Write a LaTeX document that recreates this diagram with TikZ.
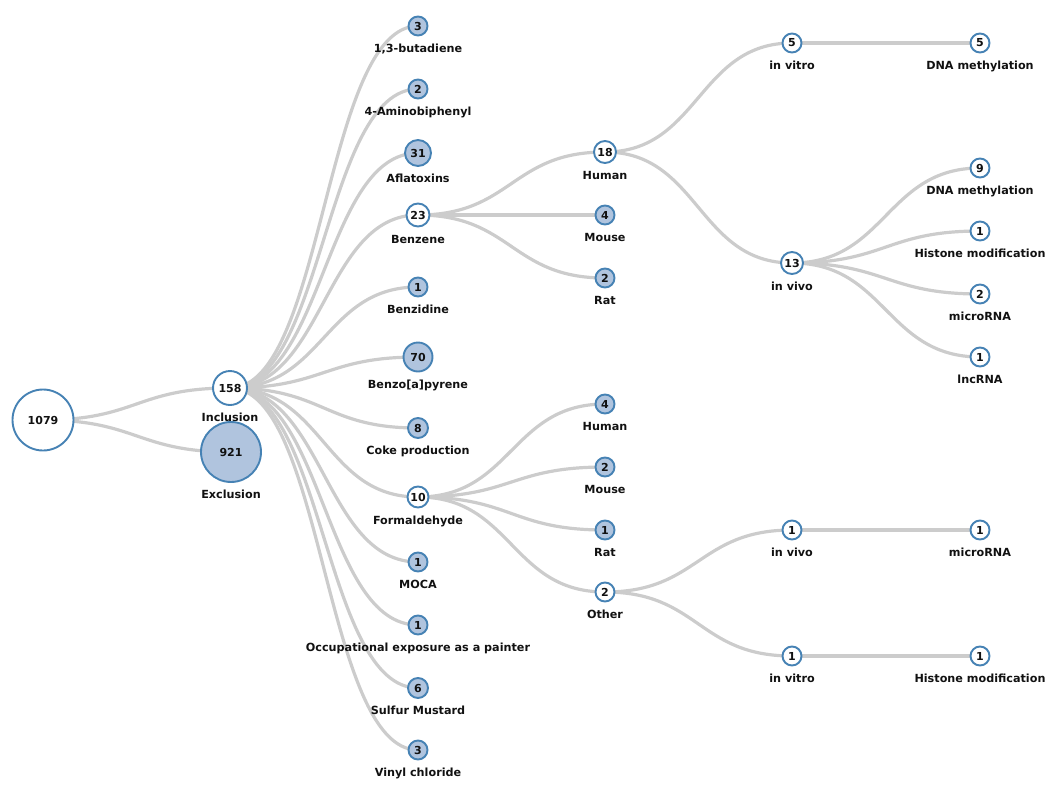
\documentclass[tikz,border=0pt]{standalone}
\usepackage{fontspec}
\setmainfont{DejaVu Sans}
\usetikzlibrary{backgrounds}
\definecolor{nodeedge}{HTML}{4682B4}
\definecolor{nodefill}{HTML}{B0C4DE}
\definecolor{linkgray}{HTML}{CCCCCC}
\definecolor{txt}{HTML}{111111}
\tikzset{
  tnode/.style={circle, draw=nodeedge, line width=1.9pt, inner sep=0pt, fill=white,
    text=txt, font=\fontsize{11}{12}\selectfont\bfseries},
  leaf/.style={tnode, fill=nodefill},
  lbl/.style={font=\fontsize{11.2}{13}\selectfont\bfseries, anchor=base, inner sep=0pt, text=txt},
  link/.style={draw=linkgray, line width=3.2pt},
}
% name, style, x, y, radius, number, label
\newcommand{\mknode}[7]{%
  \node[#2, minimum size={2*#5pt}] (#1) at (#3,#4) {#6};
  \node[lbl] (#1-l) at (#3,{#4+#5+16.5}) {#7};}
\newcommand{\lnk}[2]{\draw[link] (#1.center) .. controls +(94,0) and +(-94,0) .. (#2.center);}
\begin{document}
\begin{tikzpicture}[x=1pt,y=-1pt]
\useasboundingbox (0,0) rectangle (1050,785);
% level 0
\node[tnode, minimum size=61pt] (root) at (43,420) {1079};
% level 1
\mknode{inc}{tnode}{230}{388}{17}{158}{Inclusion}
\mknode{exc}{leaf}{231}{452}{30}{921}{Exclusion}
% level 2
\mknode{but}{leaf}{418}{26}{9.5}{3}{1,3-butadiene}
\mknode{ami}{leaf}{418}{89}{9.5}{2}{4-Aminobiphenyl}
\mknode{afl}{leaf}{418}{153}{13}{31}{Aflatoxins}
\mknode{ben}{tnode}{418}{215}{11.5}{23}{Benzene}
\mknode{bzd}{leaf}{418}{287}{9.5}{1}{Benzidine}
\mknode{bap}{leaf}{418}{357}{14.5}{70}{Benzo[a]pyrene}
\mknode{cok}{leaf}{418}{428}{10}{8}{Coke production}
\mknode{for}{tnode}{418}{497}{10.5}{10}{Formaldehyde}
\mknode{moc}{leaf}{418}{562}{9.5}{1}{MOCA}
\mknode{occ}{leaf}{418}{625}{9.5}{1}{Occupational exposure as a painter}
\mknode{sul}{leaf}{418}{688}{10}{6}{Sulfur Mustard}
\mknode{vin}{leaf}{418}{750}{9.5}{3}{Vinyl chloride}
% level 3
\mknode{bhum}{tnode}{605}{152}{11}{18}{Human}
\mknode{bmou}{leaf}{605}{215}{9.5}{4}{Mouse}
\mknode{brat}{leaf}{605}{278}{9.5}{2}{Rat}
\mknode{fhum}{leaf}{605}{404}{9.5}{4}{Human}
\mknode{fmou}{leaf}{605}{467}{9.5}{2}{Mouse}
\mknode{frat}{leaf}{605}{530}{9.5}{1}{Rat}
\mknode{foth}{tnode}{605}{592}{9.5}{2}{Other}
% level 4
\mknode{bvitro}{tnode}{792}{43}{9.5}{5}{in vitro}
\mknode{bvivo}{tnode}{792}{263}{11}{13}{in vivo}
\mknode{ovivo}{tnode}{792}{530}{9.5}{1}{in vivo}
\mknode{ovitro}{tnode}{792}{656}{9.5}{1}{in vitro}
% level 5
\mknode{dna1}{tnode}{980}{43}{9.5}{5}{DNA methylation}
\mknode{dna2}{tnode}{980}{168}{9.5}{9}{DNA methylation}
\mknode{his1}{tnode}{980}{231}{9.5}{1}{Histone modification}
\mknode{mir1}{tnode}{980}{294}{9.5}{2}{microRNA}
\mknode{lnc}{tnode}{980}{357}{9.5}{1}{lncRNA}
\mknode{mir2}{tnode}{980}{530}{9.5}{1}{microRNA}
\mknode{his2}{tnode}{980}{656}{9.5}{1}{Histone modification}
\begin{scope}[on background layer]
\lnk{root}{inc}\lnk{root}{exc}
\foreach \c in {but,ami,afl,ben,bzd,bap,cok,for,moc,occ,sul,vin}{\lnk{inc}{\c}}
\lnk{ben}{bhum}\lnk{ben}{bmou}\lnk{ben}{brat}
\lnk{for}{fhum}\lnk{for}{fmou}\lnk{for}{frat}\lnk{for}{foth}
\lnk{bhum}{bvitro}\lnk{bhum}{bvivo}
\lnk{foth}{ovivo}\lnk{foth}{ovitro}
\lnk{bvitro}{dna1}
\foreach \c in {dna2,his1,mir1,lnc}{\lnk{bvivo}{\c}}
\lnk{ovivo}{mir2}\lnk{ovitro}{his2}
\end{scope}
\end{tikzpicture}
\end{document}
